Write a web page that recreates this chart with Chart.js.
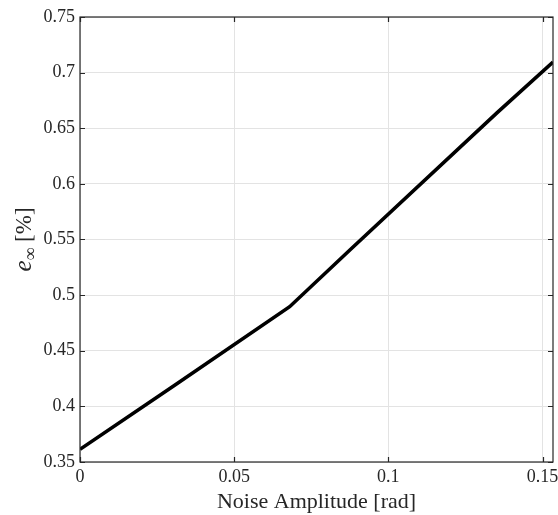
<!DOCTYPE html>
<html>
<head>
<meta charset="utf-8">
<script src="https://cdn.jsdelivr.net/npm/chart.js@4/dist/chart.umd.min.js"></script>
<style>
html,body{margin:0;padding:0;background:#fff;}
#wrap{width:558px;height:515px;position:relative;}
</style>
</head>
<body>
<div id="wrap"><canvas id="c" width="558" height="515"></canvas></div>
<script>
// Data
const noiseAmplitude = [0, 0.0307, 0.068, 0.0877, 0.1353, 0.1534];
const eInf = [0.3614, 0.419, 0.4896, 0.541, 0.664, 0.7095];
const xTicks = [0, 0.05, 0.1, 0.15];
const yTicks = [0.35, 0.4, 0.45, 0.5, 0.55, 0.6, 0.65, 0.7, 0.75];
const xTitle = 'Noise Amplitude [rad]';
const yTitleMain = 'e';
const yTitleSub = '∞';
const yTitleUnit = ' [%]';

const FONT = '"Liberation Serif", "Times New Roman", serif';
const TXT = '#262626';
const GRID = '#e3e3e3';

const fmt = v => String(parseFloat(v.toFixed(4)));

const boxPlugin = {
  id: 'box',
  afterDatasetsDraw(chart) {
    const {ctx, chartArea: a, scales: {x, y}} = chart;
    ctx.save();
    ctx.strokeStyle = TXT;
    ctx.lineWidth = 1.2;
    ctx.strokeRect(a.left, a.top, a.right - a.left, a.bottom - a.top);
    const L = 5;
    ctx.beginPath();
    xTicks.forEach(v => {
      const px = Math.round(x.getPixelForValue(v)) + 0.5;
      ctx.moveTo(px, a.bottom); ctx.lineTo(px, a.bottom - L);
      ctx.moveTo(px, a.top); ctx.lineTo(px, a.top + L);
    });
    yTicks.forEach(v => {
      const py = Math.round(y.getPixelForValue(v)) + 0.5;
      ctx.moveTo(a.left, py); ctx.lineTo(a.left + L, py);
      ctx.moveTo(a.right, py); ctx.lineTo(a.right - L, py);
    });
    ctx.stroke();
    ctx.restore();
  },
  afterDraw(chart) {
    const {ctx, chartArea: a} = chart;
    ctx.save();
    const cy = (a.top + a.bottom) / 2;
    ctx.translate(25, cy);
    ctx.rotate(-Math.PI / 2);
    ctx.fillStyle = TXT;
    ctx.textBaseline = 'alphabetic';
    const fMain = 'italic 25px ' + FONT;
    const fSub = '18px ' + FONT;
    const fUnit = '23px ' + FONT;
    ctx.font = fMain; const w1 = ctx.measureText(yTitleMain).width;
    ctx.font = fSub; const w2 = ctx.measureText(yTitleSub).width;
    ctx.font = fUnit; const w3 = ctx.measureText(yTitleUnit).width;
    let sx = -(w1 + w2 + w3) / 2;
    const base = 6;
    ctx.font = fMain; ctx.fillText(yTitleMain, sx, base); sx += w1;
    ctx.font = fSub; ctx.fillText(yTitleSub, sx, base + 5); sx += w2;
    ctx.font = fUnit; ctx.fillText(yTitleUnit, sx, base);
    ctx.restore();
  }
};

new Chart(document.getElementById('c'), {
  type: 'line',
  data: {
    labels: noiseAmplitude,
    datasets: [{
      data: noiseAmplitude.map((v, i) => ({x: v, y: eInf[i]})),
      borderColor: '#000',
      borderWidth: 3.6,
      pointRadius: 0,
      tension: 0,
      fill: false
    }]
  },
  options: {
    responsive: false,
    animation: false,
    events: [],
    layout: {padding: {top: 17, right: 5, left: 0, bottom: 0}},
    plugins: {legend: {display: false}, tooltip: {enabled: false}},
    scales: {
      x: {
        type: 'linear',
        min: 0, max: noiseAmplitude[noiseAmplitude.length - 1],
        afterBuildTicks: s => { s.ticks = xTicks.map(v => ({value: v})); },
        ticks: {callback: v => fmt(v), color: TXT, font: {family: FONT, size: 18}, padding: 4, maxRotation: 0, autoSkip: false},
        grid: {color: GRID, lineWidth: 1, drawTicks: false},
        border: {display: false},
        title: {display: true, text: xTitle, color: TXT, font: {family: FONT, size: 22}, padding: {top: -3, bottom: 0}},
        afterFit: s => { s.height = 53; s.paddingLeft = 0; s.paddingRight = 0; }
      },
      y: {
        type: 'linear',
        min: 0.35, max: 0.75,
        afterBuildTicks: s => { s.ticks = yTicks.map(v => ({value: v})); },
        ticks: {callback: v => fmt(v), color: TXT, font: {family: FONT, size: 18}, padding: 5, autoSkip: false},
        grid: {color: GRID, lineWidth: 1, drawTicks: false},
        border: {display: false},
        afterFit: s => { s.width = 80; s.paddingTop = 0; s.paddingBottom = 0; }
      }
    }
  },
  plugins: [boxPlugin]
});
</script>
</body>
</html>
